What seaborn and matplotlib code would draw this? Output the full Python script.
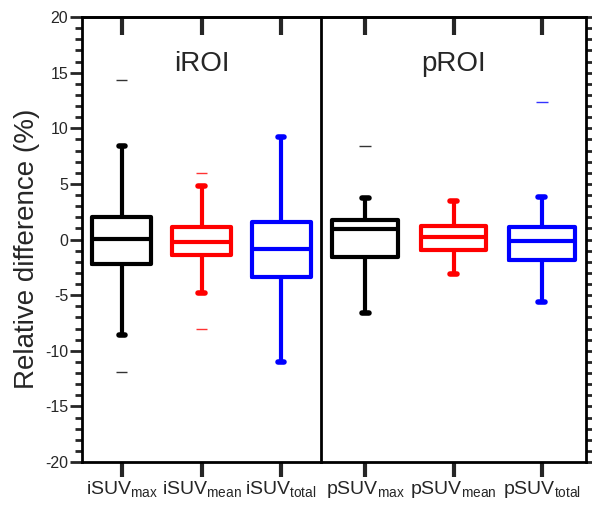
import numpy as np
import pandas as pd
import matplotlib
matplotlib.use("Agg")
import matplotlib.pyplot as plt
import seaborn as sns
from matplotlib.ticker import MultipleLocator

sns.set_style("white")
plt.rcParams['font.family'] = ['Liberation Sans', 'DejaVu Sans']
plt.rcParams['mathtext.fontset'] = 'custom'
plt.rcParams['mathtext.rm'] = 'Liberation Sans'
plt.rcParams['mathtext.it'] = 'Liberation Sans:italic'
plt.rcParams['axes.unicode_minus'] = False

# ---- data (five-number summaries) ----
i_cats = ["iSUVmax", "iSUVmean", "iSUVtotal"]
p_cats = ["pSUVmax", "pSUVmean", "pSUVtotal"]
i_labels = [r"iSUV$_{\rm max}$", r"iSUV$_{\rm mean}$", r"iSUV$_{\rm total}$"]
p_labels = [r"pSUV$_{\rm max}$", r"pSUV$_{\rm mean}$", r"pSUV$_{\rm total}$"]

# [whisker low, Q1, median, Q3, whisker high]
iSUVmax = [-8.6, -2.2, 0.05, 2.05, 8.4]
iSUVmean = [-4.8, -1.4, -0.2, 1.1, 4.8]
iSUVtotal = [-11.0, -3.4, -0.85, 1.6, 9.2]
pSUVmax = [-6.6, -1.55, 0.9, 1.75, 3.7]
pSUVmean = [-3.1, -0.9, 0.25, 1.2, 3.45]
pSUVtotal = [-5.6, -1.8, -0.15, 1.15, 3.85]

# outliers
i_out_cat = ["iSUVmax", "iSUVmax", "iSUVmean", "iSUVmean"]
i_out_val = [14.3, -11.9, 6.0, -8.0]
p_out_cat = ["pSUVmax", "pSUVtotal"]
p_out_val = [8.4, 12.4]

colors = ["#000000", "#FF0000", "#0000FF"]

i_df = pd.DataFrame({"cat": np.repeat(i_cats, 5),
                     "val": iSUVmax + iSUVmean + iSUVtotal})
p_df = pd.DataFrame({"cat": np.repeat(p_cats, 5),
                     "val": pSUVmax + pSUVmean + pSUVtotal})
i_out = pd.DataFrame({"cat": i_out_cat, "val": i_out_val})
p_out = pd.DataFrame({"cat": p_out_cat, "val": p_out_val})

fig, axes = plt.subplots(1, 2, figsize=(5.92, 5.08), dpi=100, sharey=True,
                         gridspec_kw={"width_ratios": [239, 265], "wspace": 0})
fig.subplots_adjust(left=82/592, right=586/592, top=1-17/508, bottom=1-462/508)

lw = 3.0
for ax, df, odf, cats, labels, title in [
        (axes[0], i_df, i_out, i_cats, i_labels, "iROI"),
        (axes[1], p_df, p_out, p_cats, p_labels, "pROI")]:
    sns.boxplot(data=df, x="cat", y="val", hue="cat", order=cats, hue_order=cats,
                palette=colors, fill=False, width=0.74, whis=(0, 100),
                linewidth=lw, showfliers=False, legend=False, ax=ax,
                capwidths=0.08,
                capprops={"linewidth": 4.0, "solid_capstyle": "round"},
                whiskerprops={"linewidth": lw},
                boxprops={"linewidth": lw},
                medianprops={"linewidth": lw})
    sns.stripplot(data=odf, x="cat", y="val", hue="cat", order=cats, hue_order=cats,
                  palette=colors, jitter=False, marker="_", s=8, linewidth=1.0,
                  alpha=0.8, legend=False, ax=ax)
    ax.set_xlim(-0.5, 2.5)
    ax.set_xticks([0, 1, 2])
    ax.set_xticklabels(labels, fontsize=14)
    ax.set_xlabel("")
    ax.tick_params(axis="x", direction="out", length=11, width=3, pad=1.5,
                   bottom=True, top=False)
    sec = ax.secondary_xaxis("top")
    sec.set_xticks([0, 1, 2])
    sec.set_xticklabels([])
    sec.tick_params(direction="in", length=13, width=3)
    sec.spines["top"].set_linewidth(2)
    for s in ax.spines.values():
        s.set_linewidth(2)
        s.set_color("black")
    ax.text(1, 15.8, title, ha="center", va="center", fontsize=20)

ax0, ax1 = axes
ax0.set_ylim(-20, 20)
ax0.yaxis.set_major_locator(MultipleLocator(5))
ax0.yaxis.set_minor_locator(MultipleLocator(1))
ax0.tick_params(axis="y", which="major", direction="out", length=8.5, width=2,
                labelsize=11.5, pad=1.5, left=True, right=False)
ax0.tick_params(axis="y", which="minor", direction="out", length=5, width=2,
                left=True, right=False)
ax0.set_ylabel("Relative difference (%)", fontsize=20)
ax0.yaxis.set_label_coords(-0.175, 0.48)
ax0.spines["right"].set_visible(False)

ax1.tick_params(axis="y", which="both", direction="out", length=5, width=2,
                left=False, right=True, labelleft=False, labelright=False)
ax1.set_ylabel("")

fig.savefig("out.png", dpi=100)
